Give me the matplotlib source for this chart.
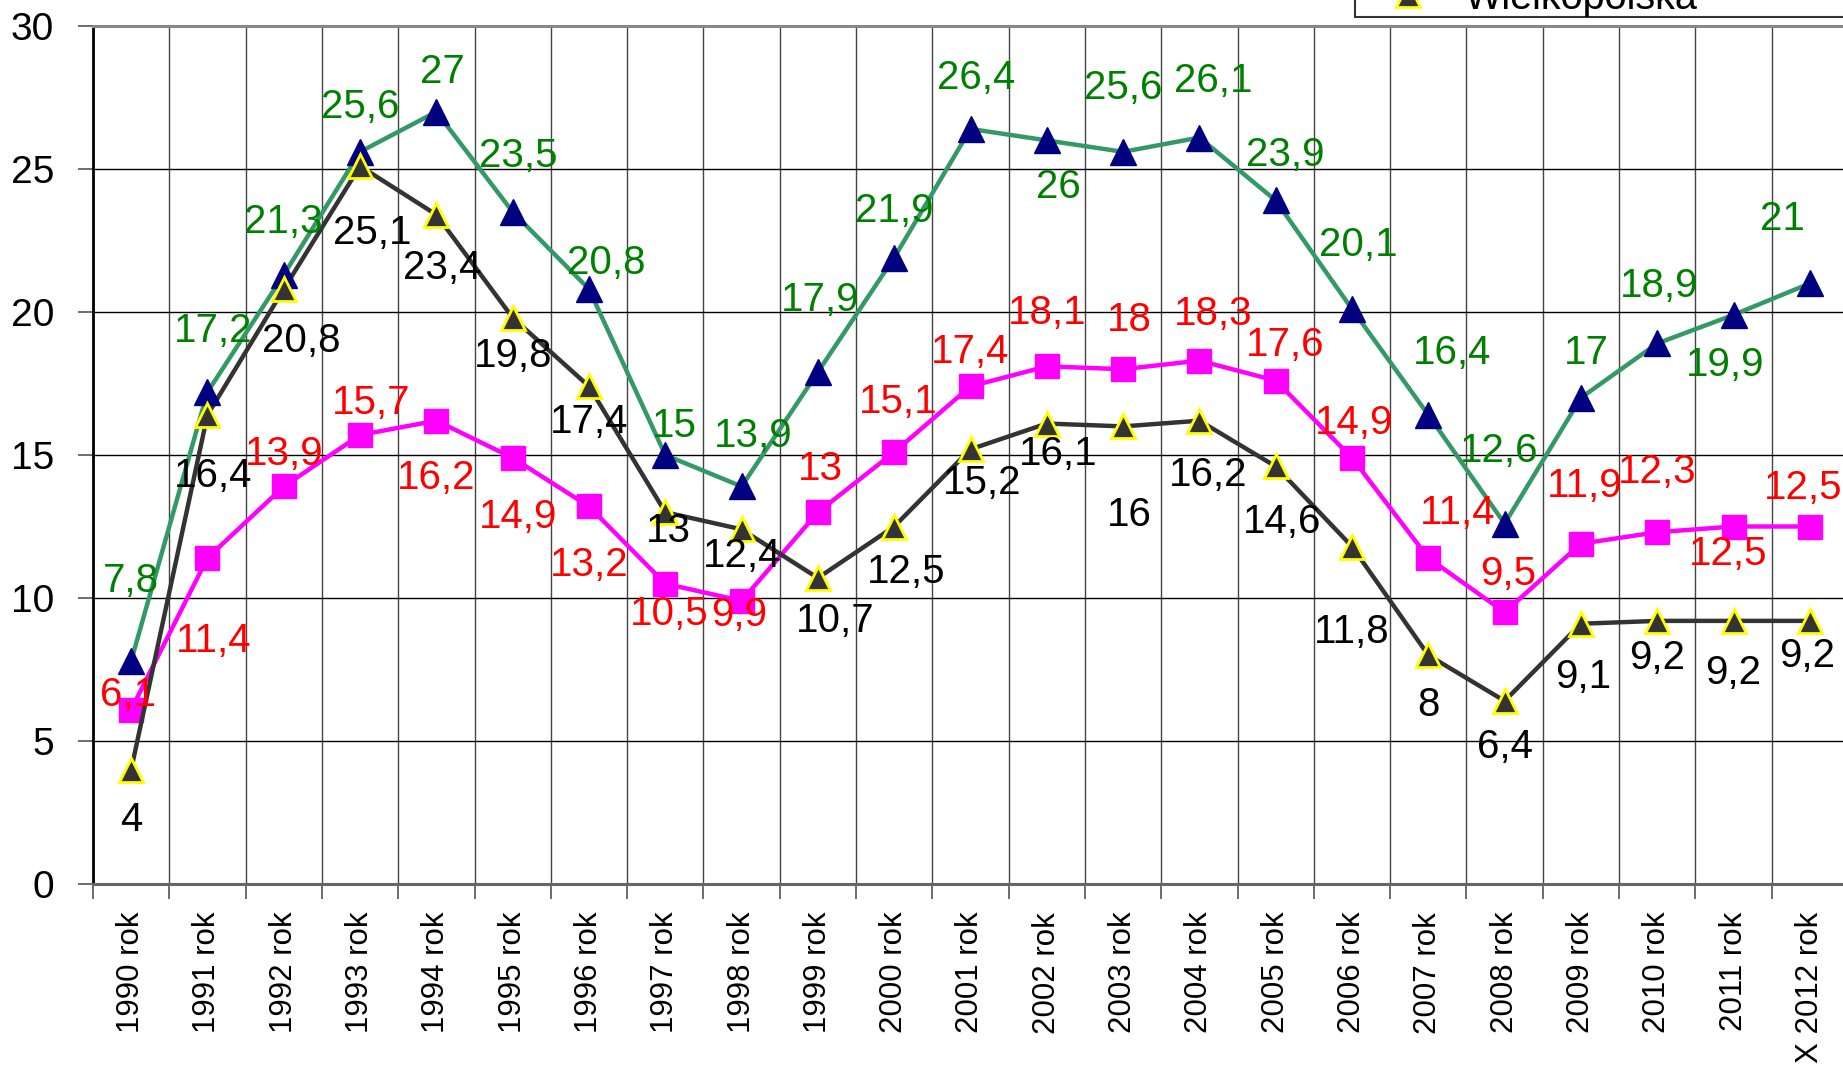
import matplotlib
matplotlib.use("Agg")
import matplotlib.pyplot as plt
from matplotlib.lines import Line2D

plt.rcParams['font.family'] = ['Liberation Sans', 'DejaVu Sans']

categories = ["1990 rok", "1991 rok", "1992 rok", "1993 rok", "1994 rok", "1995 rok",
              "1996 rok", "1997 rok", "1998 rok", "1999 rok", "2000 rok", "2001 rok",
              "2002 rok", "2003 rok", "2004 rok", "2005 rok", "2006 rok", "2007 rok",
              "2008 rok", "2009 rok", "2010 rok", "2011 rok", "X 2012 rok"]

green_vals = [7.8, 17.2, 21.3, 25.6, 27, 23.5, 20.8, 15, 13.9, 17.9, 21.9, 26.4,
              26, 25.6, 26.1, 23.9, 20.1, 16.4, 12.6, 17, 18.9, 19.9, 21]
magenta_vals = [6.1, 11.4, 13.9, 15.7, 16.2, 14.9, 13.2, 10.5, 9.9, 13, 15.1, 17.4,
                18.1, 18, 18.3, 17.6, 14.9, 11.4, 9.5, 11.9, 12.3, 12.5, 12.5]
wlkp_vals = [4, 16.4, 20.8, 25.1, 23.4, 19.8, 17.4, 13, 12.4, 10.7, 12.5, 15.2,
             16.1, 16, 16.2, 14.6, 11.8, 8, 6.4, 9.1, 9.2, 9.2, 9.2]

yticks = [0, 5, 10, 15, 20, 25, 30]
legend_label = "Wielkopolska"

# label offsets (shown-image px, dx right, dy up) -- placement only
green_off = [(0, 68), (5, 52), (0, 45), (0, 38), (5, 34), (5, 48), (15, 22), (8, 25),
             (10, 43), (2, 61), (0, 40), (5, 43), (10, -40), (0, 54), (12, 48), (8, 39),
             (5, 55), (20, 53), (-5, 62), (5, 38), (2, 49), (-7, -43), (-23, 55)]
magenta_off = [(-3, 12), (5, -71), (0, 28), (9, 27), (0, -49), (5, -50), (0, -50), (3, -26),
               (-2, -12), (2, 37), (3, 43), (0, 29), (0, 45), (5, 42), (12, 40), (8, 30),
               (2, 30), (25, 38), (3, 33), (3, 49), (0, 51), (-5, -23), (-6, 33)]
wlkp_off = [(0, -43), (5, -52), (15, -44), (10, -57), (5, -45), (0, -33), (0, -30), (3, -16),
            (0, -23), (15, -37), (10, -39), (10, -29), (10, -26), (5, -75), (7, -46), (5, -47),
            (0, -73), (0, -42), (0, -39), (2, -45), (0, -32), (0, -44), (-2, -30)]

W, H = 1843, 1072
fig = plt.figure(figsize=(W / 100, H / 100), dpi=100)
ax = fig.add_axes([93 / W, 1 - 884 / H, (1848 - 93) / W, 858 / H])

x = list(range(len(categories)))
LW = 3.2

# lines
ax.plot(x, magenta_vals, color='#FF00FF', lw=LW, zorder=2)
ax.plot(x, wlkp_vals, color='#333333', lw=LW, zorder=3)
ax.plot(x, green_vals, color='#339966', lw=LW, zorder=3.5)
# markers
ax.plot(x, magenta_vals, ls='none', marker='s', ms=17, mfc='#FF00FF', mec='#FF00FF', zorder=2.5)
ax.plot(x, green_vals, ls='none', marker='^', ms=19, mfc='#000080', mec='#000080', zorder=4)
ax.plot(x, wlkp_vals, ls='none', marker='^', ms=17, mfc='#333333', mec='#FFFF00', mew=2,
        zorder=4.5)

S = 1.175
fs = 29
for vals, offs, col in ((green_vals, green_off, '#008000'),
                        (magenta_vals, magenta_off, '#FF0000'),
                        (wlkp_vals, wlkp_off, '#000000')):
    for xi, (v, (dx, dy)) in enumerate(zip(vals, offs)):
        txt = ("%g" % v).replace('.', ',')
        ax.annotate(txt, (xi, v), xytext=(dx * S, dy * S), textcoords='offset pixels',
                    ha='center', va='center', fontsize=fs, color=col, zorder=10,
                    annotation_clip=False)

ax.set_xlim(-0.5, len(categories) - 0.5)
ax.set_ylim(0, 30)
ax.set_yticks(yticks)
ax.set_yticklabels([str(t) for t in yticks], fontsize=28)

# boundaries as major ticks (grid + tick marks), centers as minor ticks (labels)
ax.set_xticks([i - 0.5 for i in range(len(categories) + 1)])
ax.set_xticklabels([])
ax.set_xticks(x, minor=True)
ax.set_xticklabels(categories, minor=True, rotation=90, fontsize=22.5)
ax.tick_params(axis='x', which='major', length=11, width=1.2, color='#555555', direction='out')
ax.tick_params(axis='x', which='minor', length=0, pad=20)
ax.tick_params(axis='y', length=11, width=1.2, color='#555555', pad=17)

ax.grid(True, axis='y', color='#000000', lw=1.0, zorder=0)
ax.grid(True, axis='x', which='major', color='#444444', lw=1.0, zorder=0)
ax.set_axisbelow(True)

ax.spines['right'].set_visible(False)
ax.spines['left'].set_color('#000000')
ax.spines['left'].set_linewidth(2)
ax.spines['bottom'].set_color('#666666')
ax.spines['bottom'].set_linewidth(2.2)
ax.spines['top'].set_color('#888888')
ax.spines['top'].set_linewidth(2.2)

handle = Line2D([], [], color='#333333', lw=LW, marker='^', ms=17,
                mfc='#333333', mec='#FFFF00', mew=2)
leg = fig.legend([handle], [legend_label], loc='lower left', mode='expand',
                 bbox_to_anchor=(1355 / W, 1 - 17 / H, 0.3, 0.05),
                 fontsize=28.5, frameon=True, fancybox=False, borderpad=0.0,
                 handlelength=2.68, handletextpad=0.1, borderaxespad=0)
leg.get_frame().set_edgecolor('#000000')
leg.get_frame().set_linewidth(1.5)

fig.savefig("out.png", dpi=100)
